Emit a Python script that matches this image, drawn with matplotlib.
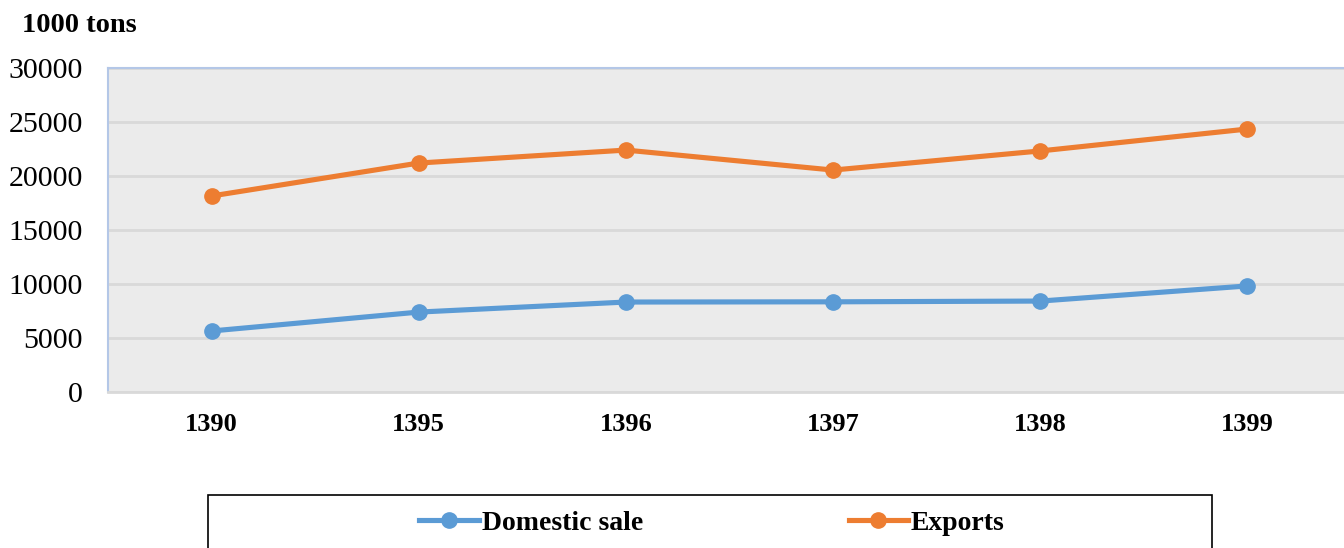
import matplotlib
matplotlib.use("Agg")
import matplotlib.pyplot as plt
from matplotlib.patches import Rectangle
from matplotlib.lines import Line2D

years = ["1390", "1395", "1396", "1397", "1398", "1399"]
domestic = [5650, 7400, 8330, 8350, 8420, 9820]
exports = [18150, 21200, 22400, 20550, 22320, 24350]
yticks = [0, 5000, 10000, 15000, 20000, 25000, 30000]

plt.rcParams['font.family'] = ['Liberation Serif', 'DejaVu Serif']

fig = plt.figure(figsize=(13.44, 5.48), dpi=100)
ax = fig.add_axes([108/1344, 1-392/548, 1243/1344, 324/548])
ax.set_facecolor('#ebebeb')

x = list(range(len(years)))
blue = '#5b9bd5'
orange = '#ed7d31'
ax.plot(x, domestic, color=blue, lw=3.7, marker='o', ms=11, solid_capstyle='round', zorder=3)
ax.plot(x, exports, color=orange, lw=3.7, marker='o', ms=11, solid_capstyle='round', zorder=3)

ax.set_xlim(-0.5, len(years)-0.5)
ax.set_ylim(0, 30000)
ax.set_yticks(yticks)
ax.set_yticklabels([str(v) for v in yticks], fontsize=21.5)
ax.set_xticks(x)
ax.set_xticklabels(years, fontsize=19, fontweight='bold')
ax.tick_params(axis='both', length=0)
ax.tick_params(axis='y', pad=18)
ax.tick_params(axis='x', pad=15)
ax.grid(axis='y', color='#d9d9d9', lw=2)
ax.set_axisbelow(True)
for s in ['left', 'top']:
    ax.spines[s].set_color('#b4c7e7')
    ax.spines[s].set_linewidth(1.5)
ax.spines['bottom'].set_color('#d9d9d9')
ax.spines['bottom'].set_linewidth(2)
ax.spines['right'].set_visible(False)

fig.text(22/1344, 1-26/548, "1000 tons", fontsize=20.5, fontweight='bold', va='center', ha='left')

# legend box
fig.patches.append(Rectangle((208/1344, -0.05), (1212-208)/1344, 0.05 + (548-495)/548,
                             transform=fig.transFigure, fill=False, edgecolor='black', lw=1.2))
handles = [Line2D([], [], color=blue, lw=3.7, marker='o', ms=11),
           Line2D([], [], color=orange, lw=3.7, marker='o', ms=11)]
leg = fig.legend(handles, ["Domestic sale", "Exports"], loc='center', bbox_to_anchor=(712/1344, 1-523/548),
                 ncol=2, frameon=False, prop={'size': 20, 'weight': 'bold'},
                 handlelength=2.15, handletextpad=0.1, columnspacing=7.4)

fig.savefig("out.png", dpi=100)
